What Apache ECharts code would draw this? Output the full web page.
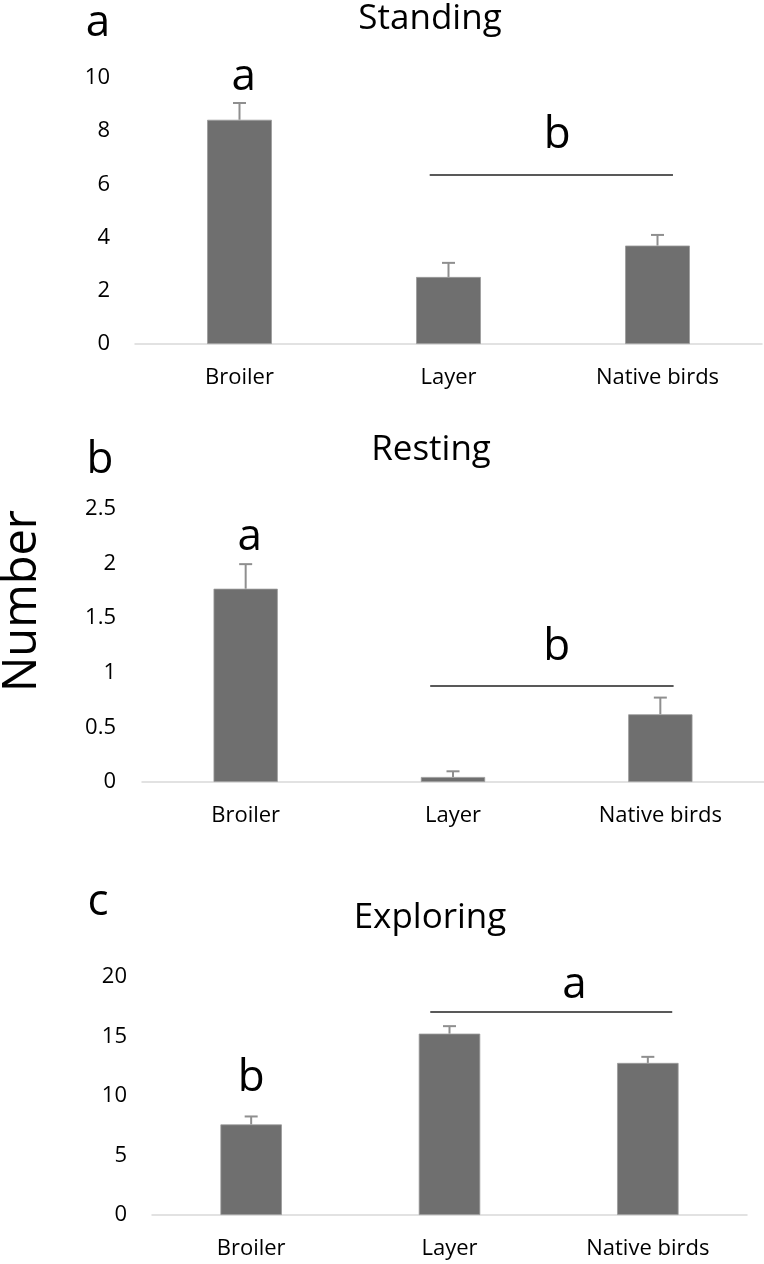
<!DOCTYPE html>
<html>
<head>
<meta charset="utf-8">
<script src="https://cdn.jsdelivr.net/npm/echarts@6/dist/echarts.min.js"></script>
<style>
html,body{margin:0;padding:0;background:#fff;}
#main{width:764px;height:1264px;}
</style>
</head>
<body>
<div id="main"></div>
<script>
// ---- data ----
const categories = ['Broiler', 'Layer', 'Native birds'];

const standingMean = [8.43, 2.52, 3.70];
const standingSE   = [0.63, 0.53, 0.40];
const standingTicks = [0, 2, 4, 6, 8, 10];

const restingMean = [1.77, 0.046, 0.62];
const restingSE   = [0.225, 0.052, 0.153];
const restingTicks = [0, 0.5, 1, 1.5, 2, 2.5];

const exploringMean = [7.61, 15.24, 12.78];
const exploringSE   = [0.67, 0.63, 0.51];
const exploringTicks = [0, 5, 10, 15, 20];

// significance annotations: letter text, category position, value of baseline
const standingLetters  = [['a', 0.02, 9.48], ['b', 1.52, 7.29]];
const standingLine     = [0.91, 2.074, 6.35];
const restingLetters   = [['a', 0.02, 2.106], ['b', 1.5, 1.099]];
const restingLine      = [0.89, 2.064, 0.879];
const exploringLetters = [['b', 0.0, 10.25], ['a', 1.63, 18.07]];
const exploringLine    = [0.903, 2.123, 17.06];

const FONT = '"Open Sans", "Liberation Sans", sans-serif';
const BAR = '#6f6f6f';
const ERR = '#8f8f8f';
const LET = 44;

const panels = [
  {mean: standingMean, se: standingSE, ticks: standingTicks, letters: standingLetters, line: standingLine,
   grid: {left: 135, top: 78, width: 627, height: 266}, labelMargin: 25},
  {mean: restingMean, se: restingSE, ticks: restingTicks, letters: restingLetters, line: restingLine,
   grid: {left: 142, top: 509, width: 622, height: 273}, labelMargin: 26},
  {mean: exploringMean, se: exploringSE, ticks: exploringTicks, letters: exploringLetters, line: exploringLine,
   grid: {left: 152, top: 977, width: 595, height: 238}, labelMargin: 25}
];

const grids = [], xAxes = [], yAxes = [], series = [];
panels.forEach((p, k) => {
  grids.push(Object.assign({containLabel: false}, p.grid));
  xAxes.push({
    type: 'category', gridIndex: k, data: categories,
    axisLine: {show: true, lineStyle: {color: '#d9d9d9', width: 1.5}},
    axisTick: {show: false},
    axisLabel: {color: '#000', fontSize: 22, fontFamily: FONT, margin: 23}
  });
  const tks = p.ticks;
  yAxes.push({
    type: 'value', gridIndex: k, min: tks[0], max: tks[tks.length - 1], interval: tks[1] - tks[0],
    axisLine: {show: false}, axisTick: {show: false}, splitLine: {show: false},
    axisLabel: {color: '#000', fontSize: 22, fontFamily: FONT, margin: p.labelMargin}
  });
  series.push({
    type: 'bar', xAxisIndex: k, yAxisIndex: k, data: p.mean, barWidth: '31%',
    itemStyle: {color: BAR, borderColor: '#9a9a9a', borderWidth: 0.8}, silent: true, animation: false
  });
  series.push({
    type: 'custom', xAxisIndex: k, yAxisIndex: k, z: 5, animation: false, silent: true,
    data: p.mean.map((m, i) => [i, m, m + p.se[i]]),
    renderItem: function (params, api) {
      const x = api.value(0);
      const a = api.coord([x, api.value(1)]);
      const b = api.coord([x, api.value(2)]);
      return {
        type: 'group', children: [
          {type: 'line', shape: {x1: a[0], y1: a[1], x2: b[0], y2: b[1]}, style: {stroke: ERR, lineWidth: 2}},
          {type: 'line', shape: {x1: b[0] - 6.5, y1: b[1], x2: b[0] + 6.5, y2: b[1]}, style: {stroke: ERR, lineWidth: 2}}
        ]
      };
    }
  });
  series.push({
    type: 'custom', xAxisIndex: k, yAxisIndex: k, z: 6, animation: false, silent: true, clip: false,
    data: [[0, 0]],
    renderItem: function (params, api) {
      function pos(frac, v) {
        let i = Math.min(Math.max(Math.floor(frac), 0), 1);
        const p1 = api.coord([i, v]);
        const p2 = api.coord([i + 1, v]);
        return [p1[0] + (frac - i) * (p2[0] - p1[0]), p1[1]];
      }
      const children = [];
      const l1 = pos(p.line[0], p.line[2]);
      const l2 = pos(p.line[1], p.line[2]);
      children.push({type: 'line', shape: {x1: l1[0], y1: l1[1], x2: l2[0], y2: l2[1]},
        style: {stroke: '#222', lineWidth: 1.5}});
      p.letters.forEach(L => {
        const q = pos(L[1], L[2]);
        children.push({type: 'text', style: {text: L[0], x: q[0], y: q[1] - 0.33 * LET,
          font: LET + 'px ' + FONT, fill: '#000', align: 'center', verticalAlign: 'middle'}});
      });
      return {type: 'group', children: children};
    }
  });
});

function txt(t, x, y, size, rot) {
  return {type: 'text', x: x, y: y, rotation: rot || 0,
    style: {text: t, font: size + 'px ' + FONT, fill: '#000', align: 'center', verticalAlign: 'middle',
      textAlign: 'center', textVerticalAlign: 'middle'}};
}

const chart = echarts.init(document.getElementById('main'), null, {renderer: 'canvas'});
chart.setOption({
  backgroundColor: '#fff',
  animation: false,
  grid: grids, xAxis: xAxes, yAxis: yAxes, series: series,
  graphic: [
    txt('Standing', 430, 30 - 11, 35),
    txt('Resting', 431, 460 - 10, 35),
    txt('Exploring', 430, 928 - 10, 35),
    txt('a', 98, 38 - 0.33 * LET, LET),
    txt('b', 100, 475 - 0.33 * LET, LET),
    txt('c', 98, 917 - 0.33 * LET, LET),
    txt('Number', 23, 601, 47, Math.PI / 2)
  ]
});
</script>
</body>
</html>
